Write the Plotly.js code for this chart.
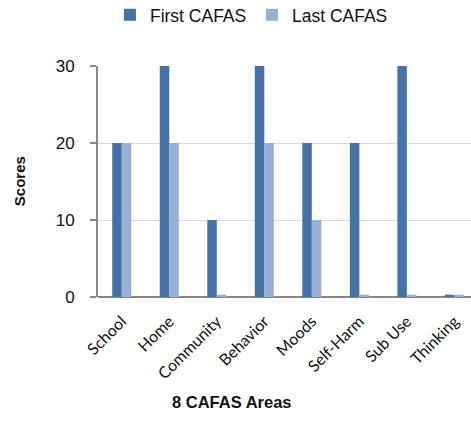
<!DOCTYPE html>
<html><head><meta charset="utf-8">
<script src="https://cdn.plot.ly/plotly-3.0.1.min.js"></script>
<style>body{margin:0;padding:0;background:#fff}</style>
</head><body>
<div id="chart" style="width:471px;height:438px"></div>
<script>
const categories = ["School","Home","Community","Behavior","Moods","Self-Harm","Sub Use","Thinking"];
const firstCafas = [20,30,10,30,20,20,30,0.3];
const lastCafas = [20,20,0.3,20,10,0.3,0.3,0.3];
const yTicks = [0,10,20,30];

const traces = [
  {type:"bar", name:"First CAFAS", x:categories, y:firstCafas, marker:{color:"#4573a8"}},
  {type:"bar", name:"Last CAFAS", x:categories, y:lastCafas, marker:{color:"#98afd6"}}
];
const layout = {
  width:471, height:438,
  margin:{l:98, r:0, t:66, b:141},
  paper_bgcolor:"#fff", plot_bgcolor:"#fff",
  barmode:"group", bargap:0.6, bargroupgap:0,
  showlegend:true,
  legend:{orientation:"h", x:0.032, xref:"paper", xanchor:"left", y:0.966, yref:"container", yanchor:"middle",
          font:{family:"Liberation Sans, Arial", size:17.5, color:"#111"}, itemwidth:30, tracegroupgap:0,
          entrywidth:97, entrywidthmode:"pixels"},
  xaxis:{type:"category", range:[-0.5,7.35], tickangle:-45, showline:false, ticks:"", ticklabelstandoff:11,
         tickfont:{family:"Lato, Open Sans, sans-serif", size:16, color:"#111"}, showgrid:false, zeroline:false},
  yaxis:{range:[0,30], tickvals:yTicks, showgrid:true, gridcolor:"#d9d9d9", gridwidth:1,
         showline:true, linecolor:"#878787", linewidth:2, ticks:"outside", ticklen:6, tickcolor:"#878787", tickwidth:1.5,
         zeroline:true, zerolinecolor:"#878787", zerolinewidth:2,
         tickfont:{family:"Liberation Sans, Arial", size:17, color:"#111"}, ticklabelstandoff:12},
  annotations:[
    {text:"<b>Scores</b>", xref:"paper", yref:"paper", x:-0.21, xanchor:"center", y:0.5, yanchor:"middle", textangle:-90, showarrow:false,
     font:{family:"Liberation Sans Narrow, Liberation Sans, Arial", size:15, color:"#111"}},
    {text:"<b>8 CAFAS Areas</b>", xref:"paper", yref:"paper", x:0.36, xanchor:"center", y:-0.455, yanchor:"middle", showarrow:false,
     font:{family:"Liberation Sans Narrow, Liberation Sans, Arial", size:16.5, color:"#111"}}
  ]
};
Plotly.newPlot("chart", traces, layout, {displayModeBar:false, staticPlot:true});
</script>
</body></html>
